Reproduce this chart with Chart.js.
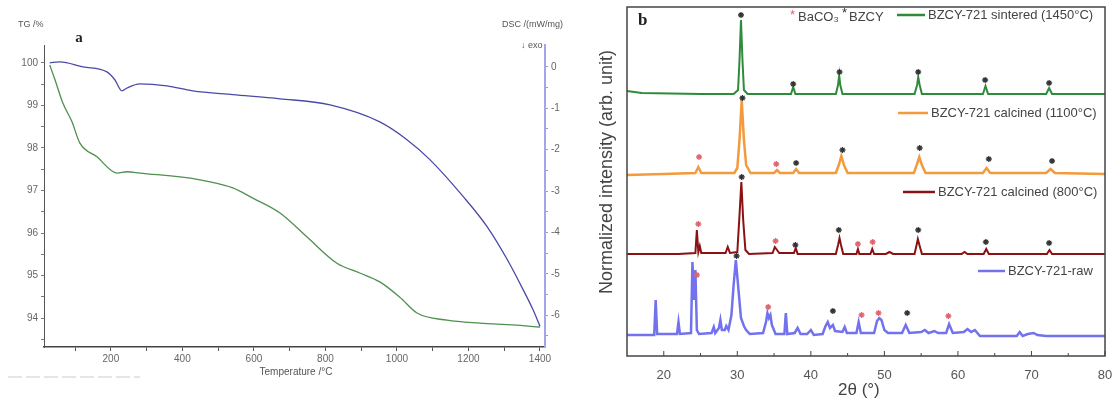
<!DOCTYPE html>
<html>
<head>
<meta charset="utf-8">
<script src="https://cdn.jsdelivr.net/npm/chart.js@4.4.1/dist/chart.umd.min.js"></script>
<style>
  body { margin: 0; background: #fff; }
  #wrap { position: relative; width: 1112px; height: 400px; }
  #tga { position: absolute; left: 0; top: 0; }
  #xrd { position: absolute; left: 580px; top: 0; }
</style>
</head>
<body>
<div id="wrap">
  <canvas id="tga" width="580" height="400"></canvas>
  <canvas id="xrd" width="532" height="400"></canvas>
</div>
<script>
// ---- panel a : TG / DSC ----
var tgTemp = [29, 43, 66, 91, 113, 161, 217, 245, 281, 449, 541, 597, 673, 748, 832, 896, 952, 1008, 1056, 1140, 1232, 1324, 1400];
var tgVal  = [99.95, 99.62, 99.05, 98.62, 98.12, 97.79, 97.41, 97.44, 97.41, 97.25, 97.06, 96.82, 96.47, 95.91, 95.29, 95.06, 94.85, 94.49, 94.12, 93.95, 93.88, 93.84, 93.79];

var dscTemp = [29, 57, 122, 189, 211, 231, 245, 281, 357, 429, 541, 673, 813, 952, 1028, 1092, 1185, 1252, 1308, 1352, 1380, 1400];
var dscVal  = [0.10, 0.12, 0.00, -0.12, -0.31, -0.58, -0.51, -0.41, -0.46, -0.58, -0.67, -0.77, -0.92, -1.33, -1.76, -2.24, -3.13, -3.86, -4.65, -5.37, -5.86, -6.27];

var tempTicks = [100, 200, 300, 400, 500, 600, 700, 800, 900, 1000, 1100, 1200, 1300, 1400];
var tgTicks = [93.5, 94, 94.5, 95, 95.5, 96, 96.5, 97, 97.5, 98, 98.5, 99, 99.5, 100];
var dscTicks = [-6.5, -6, -5.5, -5, -4.5, -4, -3.5, -3, -2.5, -2, -1.5, -1, -0.5, 0];

// ---- panel b : XRD ----
var thetaTicks = [20, 25, 30, 35, 40, 45, 50, 55, 60, 65, 70, 75, 80];

var sintered = [[15,265],[17,263],[25,262],[29.5,262],[30.1,266],[30.3,296],[30.5,336],[30.7,296],[30.9,266],[31.4,262],
  [37.3,262],[37.6,269],[37.9,262],[43.4,262],[43.7,271],[43.85,281],[44.0,271],[44.3,262],[54.1,262],[54.45,271],[54.6,279],
  [54.8,271],[55.1,262],[63.4,262],[63.75,270],[64.1,262],[72.0,262],[72.4,268],[72.8,262],[80,262]];

var calc1100 = [[15,181],[20,182],[24.3,183],[24.7,189],[25.1,183],[29.6,183],[30.0,188],[30.3,216],[30.6,256],[30.9,216],
  [31.2,191],[31.8,183],[35.0,183],[35.4,186],[35.8,183],[37.6,183],[38.0,187],[38.4,183],[43.4,183],[43.8,191],[44.15,200],
  [44.5,191],[45.0,183],[54.0,183],[54.4,191],[54.75,199],[55.1,191],[55.6,183],[63.4,183],[63.9,188],[64.4,183],[72.0,183],
  [72.6,187],[73.2,183],[80,182]];

var calc800 = [[15,102],[22,102],[24.3,103],[24.5,126],[24.7,104],[24.9,110],[25.1,103],[28.4,103],[28.7,109],[29.0,103],
  [30.0,104],[30.3,141],[30.55,174],[30.8,136],[31.1,106],[31.6,102],[34.8,103],[35.1,109],[35.4,106],[35.7,103],[37.7,103],
  [37.95,108],[38.2,102],[43.4,102],[43.7,111],[43.9,118],[44.1,111],[44.4,102],[46.2,102],[46.4,107],[46.6,102],[48.1,102],
  [48.35,107],[48.6,102],[50.2,102],[50.7,104],[51.2,102],[54.1,102],[54.35,110],[54.55,117],[54.8,110],[55.1,102],[60.5,102],
  [60.9,104],[61.3,102],[63.5,102],[63.85,107],[64.2,102],[72.1,102],[72.45,106],[72.8,102],[80,102]];

var raw = [[15,21],[18.7,21],[18.9,56],[19.1,22],[21.8,22],[22.0,34],[22.2,22],[23.7,23],[23.9,94],[24.1,56],[24.3,86],
  [24.5,26],[24.8,22],[26.5,23],[26.8,29],[27.0,23],[27.5,28],[27.7,36],[27.9,26],[28.3,26],[28.5,30],[28.8,26],[29.2,41],
  [29.5,71],[29.8,96],[30.1,71],[30.5,38],[30.9,30],[31.2,26],[31.7,22],[33.5,23],[33.9,34],[34.1,43],[34.3,38],[34.5,41],
  [34.7,31],[35.2,22],[36.4,22],[36.6,43],[36.8,22],[37.8,23],[38.2,28],[38.6,22],[39.5,22],[40.0,26],[40.4,21],[41.6,22],
  [42.0,30],[42.3,34],[42.6,28],[43.0,31],[43.3,25],[44.3,24],[44.6,29],[44.9,23],[46.2,23],[46.5,34],[46.8,23],[48.6,23],
  [49.0,35],[49.3,38],[49.6,36],[50.0,26],[50.5,23],[52.4,23],[52.9,31],[53.4,23],[55.0,24],[55.5,26],[56.0,23],[56.8,25],
  [57.3,23],[58.4,23],[58.8,32],[59.3,23],[60.8,24],[61.3,27],[61.8,24],[62.3,26],[63.0,20],[68.0,20],[68.4,24],[68.8,20],
  [69.5,22],[70.3,23],[70.8,21],[72.0,20],[80,20]];

var bzcyStars = [[30.5,341],[37.6,272],[43.9,284],[54.6,284],[63.7,276],[72.4,273],
  [30.7,258],[38.0,193],[44.3,206],[54.8,208],[64.2,197],[72.8,195],
  [30.6,179],[37.9,111],[43.8,126],[54.6,126],[63.8,114],[72.4,113],
  [29.9,100],[43.0,45],[53.1,43]];
var bacoStars = [[24.8,199],[35.3,192],[24.7,132],[35.2,115],[46.4,112],[48.4,114],
  [24.5,81],[34.2,49],[46.9,41],[49.2,43],[58.7,40]];

function xy(a, b) { return a.map(function (v, i) { return { x: v, y: b[i] }; }); }
function pairs(p) { return p.map(function (v) { return { x: v[0], y: v[1] }; }); }
function tickList(arr) { return function (s) { s.ticks = arr.map(function (v) { return { value: v }; }); }; }

var sans = "'Liberation Sans', Arial, sans-serif";

// text for panel a
var tgaText = {
  id: 'tgaText',
  afterDraw: function (c) {
    var ctx = c.ctx;
    ctx.save();
    ctx.fillStyle = '#555';
    ctx.font = '9px ' + sans;
    ctx.textBaseline = 'middle';
    ctx.fillText('TG /%', 18, 25);
    ctx.fillText('DSC /(mW/mg)', 502, 25);
    ctx.fillText('↓ exo', 521, 46);
    ctx.textAlign = 'center';
    ctx.font = '10px ' + sans;
    ctx.fillText('Temperature /°C', 296, 372);
    ctx.fillStyle = '#222';
    ctx.font = 'bold 15px "Liberation Serif", serif';
    ctx.fillText('a', 79, 38);
    ctx.strokeStyle = '#ccc';
    ctx.setLineDash([14, 4]);
    ctx.beginPath();
    ctx.moveTo(8, 377);
    ctx.lineTo(140, 377);
    ctx.stroke();
    ctx.restore();
  }
};

new Chart(document.getElementById('tga'), {
  type: 'line',
  data: {
    datasets: [{
      label: 'DSC',
      data: xy(dscTemp, dscVal),
      yAxisID: 'y2',
      borderColor: '#4a4aa6',
      borderWidth: 1.3,
      pointRadius: 0,
      cubicInterpolationMode: 'monotone'
    }, {
      label: 'TG',
      data: xy(tgTemp, tgVal),
      yAxisID: 'y',
      borderColor: '#4f8f4f',
      borderWidth: 1.3,
      pointRadius: 0,
      cubicInterpolationMode: 'monotone'
    }]
  },
  options: {
    responsive: false,
    animation: false,
    devicePixelRatio: 1,
    layout: { padding: { top: 45 } },
    plugins: { legend: { display: false }, tooltip: { enabled: false } },
    scales: {
      x: {
        type: 'linear', min: 13, max: 1414,
        afterBuildTicks: tickList(tempTicks),
        afterFit: function (s) { s.height = 53; },
        grid: { drawOnChartArea: false, tickLength: 4, color: '#555' },
        border: { color: '#444', width: 1.5 },
        ticks: {
          padding: 2, color: '#666', font: { family: sans, size: 10 },
          maxRotation: 0,
          callback: function (v) { return v % 200 === 0 ? v : ''; }
        }
      },
      y: {
        position: 'left', min: 93.32, max: 100.42,
        afterBuildTicks: tickList(tgTicks),
        afterFit: function (s) { s.width = 44; },
        grid: { drawOnChartArea: false, tickLength: 3, color: '#777' },
        border: { color: '#555', width: 1 },
        ticks: {
          padding: 3, color: '#666', font: { family: sans, size: 10 },
          callback: function (v) { return Number.isInteger(v) ? v : ''; }
        }
      },
      y2: {
        position: 'right', min: -6.77, max: 0.53,
        afterBuildTicks: tickList(dscTicks),
        afterFit: function (s) { s.width = 35; },
        grid: { drawOnChartArea: false, tickLength: 3, color: '#99c' },
        border: { color: '#a4a4ea', width: 2 },
        ticks: {
          padding: 3, color: '#666', font: { family: sans, size: 10 },
          callback: function (v) { return Number.isInteger(v) ? v : ''; }
        }
      }
    }
  },
  plugins: [tgaText]
});

// text, frame and ticks for panel b
var xrdText = {
  id: 'xrdText',
  afterDraw: function (c) {
    var ctx = c.ctx, a = c.chartArea, sx = c.scales.x;
    ctx.save();
    ctx.strokeStyle = '#444';
    ctx.lineWidth = 1.5;
    ctx.strokeRect(a.left, a.top, a.right - a.left, a.bottom - a.top);
    ctx.lineWidth = 1;
    thetaTicks.forEach(function (v) {
      var px = sx.getPixelForValue(v);
      ctx.beginPath();
      ctx.moveTo(px, a.bottom);
      ctx.lineTo(px, a.bottom - (v % 10 === 0 ? 5 : 3));
      ctx.stroke();
    });

    ctx.fillStyle = '#222';
    ctx.font = 'bold 17px "Liberation Serif", serif';
    ctx.textBaseline = 'middle';
    ctx.fillText('b', 58, 21);

    ctx.font = '13px ' + sans;
    ctx.fillStyle = '#e06470';
    ctx.fillText('*', 210, 15);
    ctx.fillStyle = '#444';
    ctx.fillText('BaCO₃', 218, 17);
    ctx.fillStyle = '#333';
    ctx.fillText('*', 262, 13);
    ctx.fillStyle = '#444';
    ctx.fillText('BZCY', 269, 17);

    var leg = [
      ['BZCY-721 sintered (1450°C)', '#2e8b3a', 317, 345, 15],
      ['BZCY-721 calcined (1100°C)', '#f39a3c', 318, 348, 113],
      ['BZCY-721 calcined (800°C)', '#8b1212', 323, 355, 192],
      ['BZCY-721-raw', '#7272ee', 398, 425, 271]
    ];
    leg.forEach(function (l) {
      ctx.strokeStyle = l[1];
      ctx.lineWidth = 2.5;
      ctx.beginPath();
      ctx.moveTo(l[2], l[4]);
      ctx.lineTo(l[3], l[4]);
      ctx.stroke();
      ctx.fillStyle = '#444';
      ctx.fillText(l[0], l[3] + 3, l[4]);
    });

    ctx.font = '17px ' + sans;
    ctx.fillText('2θ (°)', 258, 390);
    ctx.translate(27, 172);
    ctx.rotate(-Math.PI / 2);
    ctx.textAlign = 'center';
    ctx.font = '18px ' + sans;
    ctx.fillText('Normalized intensity (arb. unit)', 0, 0);
    ctx.restore();
  }
};

function xrdLine(p, color, w) {
  return { data: pairs(p), borderColor: color, borderWidth: w, pointRadius: 0, tension: 0, order: 2 };
}

new Chart(document.getElementById('xrd'), {
  type: 'line',
  data: {
    datasets: [
      xrdLine(sintered, '#2e8b3a', 2),
      xrdLine(calc1100, '#f39a3c', 2.5),
      xrdLine(calc800, '#8b1212', 2),
      xrdLine(raw, '#7272ee', 2.5),
      { type: 'scatter', data: pairs(bzcyStars), pointStyle: 'star', pointRadius: 3, borderColor: '#333', borderWidth: 1.3, order: 0 },
      { type: 'scatter', data: pairs(bacoStars), pointStyle: 'star', pointRadius: 3, borderColor: '#e06470', borderWidth: 1.3, order: 0 }
    ]
  },
  options: {
    responsive: false,
    animation: false,
    devicePixelRatio: 1,
    layout: { padding: { top: 7, right: 7 } },
    plugins: { legend: { display: false }, tooltip: { enabled: false } },
    scales: {
      x: {
        type: 'linear', min: 15, max: 80,
        afterBuildTicks: tickList(thetaTicks),
        afterFit: function (s) { s.height = 44; s.paddingLeft = 0; s.paddingRight = 0; },
        grid: { drawOnChartArea: false, drawTicks: false },
        border: { display: false },
        ticks: {
          padding: 12, color: '#555', font: { family: sans, size: 13 }, maxRotation: 0,
          callback: function (v) { return v % 10 === 0 ? v : ''; }
        }
      },
      y: {
        min: 0, max: 349,
        afterFit: function (s) { s.width = 47; },
        grid: { display: false },
        border: { display: false },
        ticks: { display: false }
      }
    }
  },
  plugins: [xrdText]
});
</script>
</body>
</html>
